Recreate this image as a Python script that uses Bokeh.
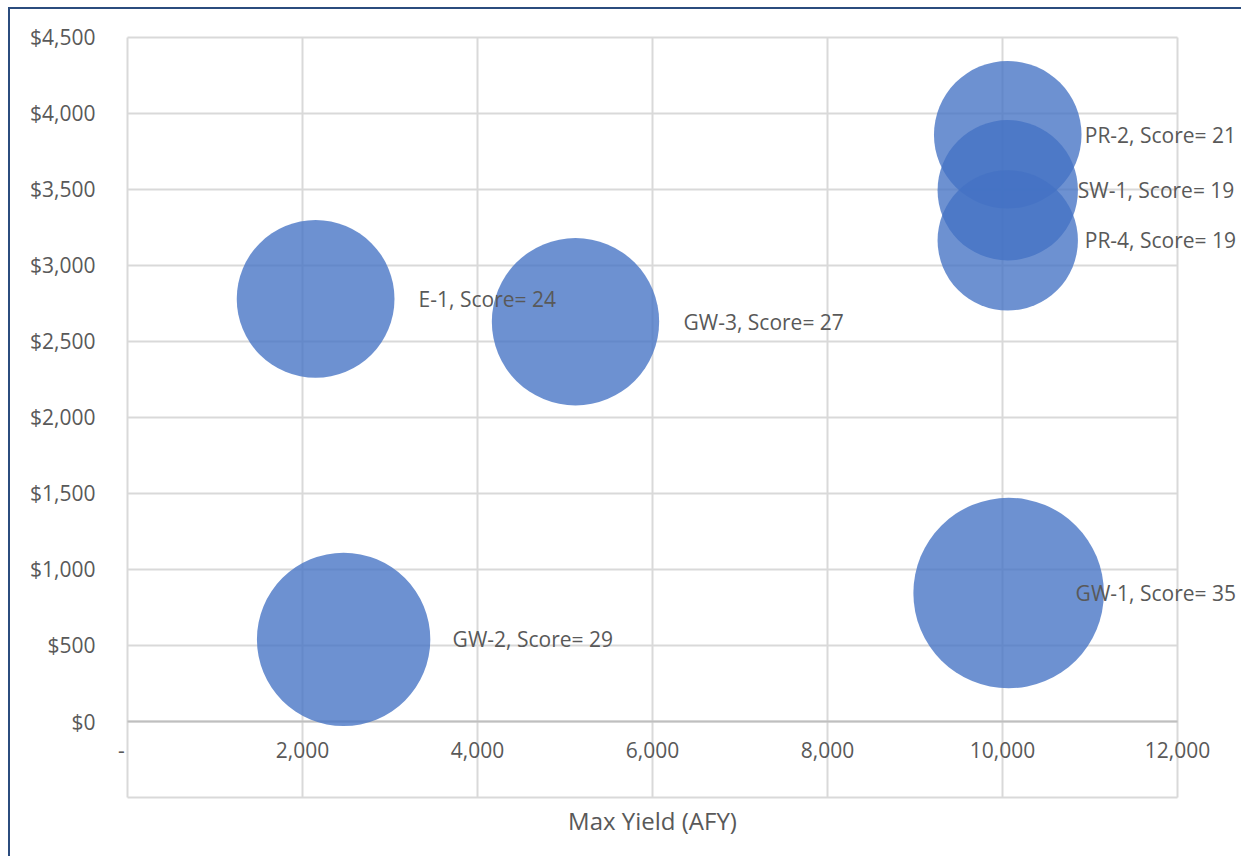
import math
from bokeh.plotting import figure
from bokeh.models import (ColumnDataSource, FixedTicker, NumeralTickFormatter,
                          Range1d)
from bokeh.core.properties import value
from bokeh.embed import file_html
from bokeh.resources import INLINE

# ---- data ----
names = ["GW-1", "GW-2", "GW-3", "E-1", "PR-2", "SW-1", "PR-4"]
max_yield = [10070, 2470, 5120, 2150, 10060, 10060, 10060]
cost = [845, 540, 2630, 2780, 3860, 3495, 3165]
score = [35, 29, 27, 24, 21, 19, 19]

x_tick_values = [0, 2000, 4000, 6000, 8000, 10000, 12000]
x_tick_labels = ["-", "2,000", "4,000", "6,000", "8,000", "10,000", "12,000"]
y_tick_values = [0, 500, 1000, 1500, 2000, 2500, 3000, 3500, 4000, 4500]
y_floor = -500          # lowest (unlabelled) grid line of the plot area
x_title = "Max Yield (AFY)"

# label placement (screen px)
label_offsets = [67, 109, 108, 103, 77, 70, 77]
tick_label_shift = [-6, 0, 0, 0, 0, 0, 0]

FONT = "Open Sans"
TXT = "#595959"
GRID = "#D9D9D9"
AXIS = "#BFBFBF"
NAVY = "#2B4C7E"

W, H = 1233, 849
x_lo, x_hi = -217.1, 12754.3
y_lo, y_hi = -901.3, 4546.0

p = figure(width=W, height=H, output_backend="svg", toolbar_location=None,
           x_range=Range1d(x_lo, x_hi), y_range=Range1d(y_lo, y_hi),
           min_border_left=98, min_border_right=0, min_border_top=21,
           min_border_bottom=0, background_fill_color="white",
           border_fill_color="white",
           styles={"margin-left": "8px", "margin-top": "7px",
                   "border-left": f"2px solid {NAVY}",
                   "border-top": f"2px solid {NAVY}"})

p.outline_line_color = None
p.grid.visible = False
p.xaxis.visible = False

x_min, x_max = x_tick_values[0], x_tick_values[-1]
y_max = y_tick_values[-1]

# vertical grid lines
p.segment(x0=x_tick_values, y0=[y_floor] * len(x_tick_values),
          x1=x_tick_values, y1=[y_max] * len(x_tick_values),
          line_color=GRID, line_width=2)
# horizontal grid lines
h_lines = [y_floor] + y_tick_values
p.segment(x0=[x_min] * len(h_lines), y0=h_lines,
          x1=[x_max] * len(h_lines), y1=h_lines,
          line_color=GRID, line_width=2)
# horizontal axis line at $0
p.segment(x0=[x_min], y0=[0], x1=[x_max], y1=[0],
          line_color=AXIS, line_width=2)

# y axis
yax = p.yaxis[0]
yax.ticker = FixedTicker(ticks=y_tick_values)
yax.formatter = NumeralTickFormatter(format="$0,0")
yax.axis_line_color = None
yax.major_tick_line_color = None
yax.minor_tick_line_color = None
yax.major_label_standoff = 7
yax.major_label_text_font = FONT
yax.major_label_text_font_size = "21px"
yax.major_label_text_color = TXT

# x tick labels (drawn inside the plot area, between $0 and the floor)
tick_src = ColumnDataSource(dict(x=x_tick_values,
                                 y=[-190] * len(x_tick_values),
                                 t=x_tick_labels, dx=tick_label_shift))
p.text(x="x", y="y", text="t", x_offset="dx", source=tick_src,
       text_align="center", text_baseline="middle", text_font=value(FONT),
       text_font_size="21px", text_color=TXT)

# x axis title, centred under the plot area
p.text(x=[(x_min + x_max) / 2], y=[-651], text=[x_title],
       text_align="center", text_baseline="middle", text_font=value(FONT),
       text_font_size="24px", text_color=TXT)

# bubbles
src = ColumnDataSource(dict(
    x=max_yield, y=cost,
    size=[32.2 * math.sqrt(s) for s in score],
    label=[f"{n}, Score= {s}" for n, s in zip(names, score)],
    off=label_offsets))
p.scatter("x", "y", size="size", source=src, fill_color="#4472C4",
          fill_alpha=0.78, line_color=None)

p.text(x="x", y="y", text="label", x_offset="off", source=src,
       text_align="left", text_baseline="middle", text_font=value(FONT),
       text_font_size="21px", text_color=TXT)

open("out.html", "w").write(file_html(p, INLINE))
